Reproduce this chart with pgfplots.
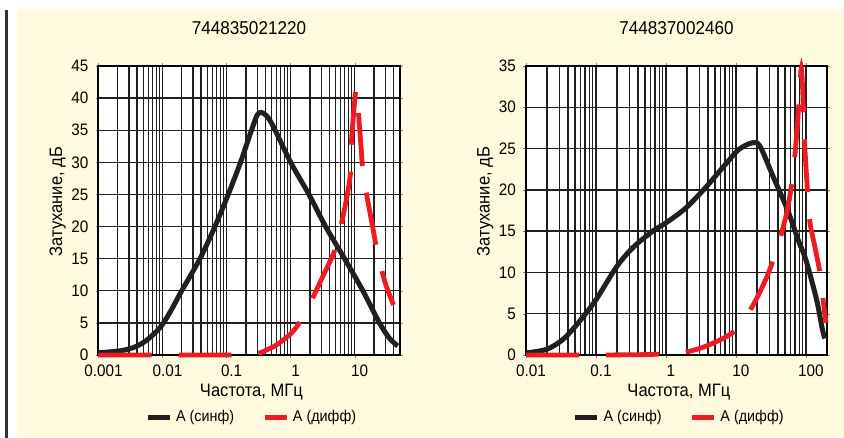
\documentclass[border=0pt]{standalone}
\usepackage{fontspec}
\setmainfont{Liberation Sans}[FakeStretch=0.92]
\usepackage{pgfplots}
\pgfplotsset{compat=1.18}

\definecolor{cream}{RGB}{255,250,222}
\definecolor{curveblack}{RGB}{35,31,32}
\definecolor{curvered}{RGB}{237,28,36}

\pgfplotsset{
  every axis/.append style={
    scale only axis, width=150.5pt, height=144.5pt,
    ymin=0, clip=false,
    axis background/.style={fill=white},
    tick align=outside, major tick length=1.5pt, minor tick length=0pt,
    xmajorgrids, xminorgrids, ymajorgrids,
    major grid style={line width=0.7pt, black!88},
    minor grid style={line width=0.65pt, black!88},
    axis line style={line width=1pt},
    /pgf/number format/assume math mode=true,
    ticklabel style={font=\fontsize{8.3}{9}\selectfont},
    xticklabel style={xshift=2.5pt},
    title style={font=\fontsize{9.3}{10}\selectfont, at={(0.5,1)}, anchor=base, yshift=9.5pt},
    xlabel style={font=\fontsize{9}{10}\selectfont, at={(axis description cs:0.508,-0.145)}, anchor=base},
    ylabel style={font=\fontsize{9}{10}\selectfont, at={(axis description cs:-0.121,0.53)}, anchor=base},
    legend columns=2,
    legend style={draw=none, fill=none, at={(axis description cs:0.512,-0.215)}, anchor=center,
      font=\fontsize{7.8}{9}\selectfont,
      /tikz/every even column/.append style={column sep=12pt}},
    legend image code/.code={\draw[#1, solid] (0pt,0pt) -- (11pt,0pt);},
  },
}

\begin{document}
\begin{tikzpicture}
\fill[white] (0,0) rectangle (422pt,219pt);
\useasboundingbox (0,0) rectangle (422pt,219pt);
\fill[cream] (8.5pt,0.5pt) rectangle (422pt,214.5pt);
\fill[black!80] (2.5pt,0pt) rectangle (4pt,214pt);

% 744835021220
\begin{axis}[xmode=log, at={(49.25pt,41.5pt)}, anchor=south west,
  title={744835021220},
  xlabel={Частота, МГц}, ylabel={Затухание, дБ},
  xmin=0.001, xmax=50, ymax=45,
  xtick={0.001,0.01,0.1,1,10},
  xticklabels={\mbox{0.001},\mbox{0.01},\mbox{0.1},\mbox{1},\mbox{10}},
  minor xtick={0.002,0.003,0.004,0.005,0.006,0.007,0.008,0.009,
    0.02,0.03,0.04,0.05,0.06,0.07,0.08,0.09,
    0.2,0.3,0.4,0.5,0.6,0.7,0.8,0.9,
    2,3,4,5,6,7,8,9,20,30,40},
  ytick={0,5,...,45}]
\addplot[color=curveblack, line width=2.5pt, smooth] coordinates {
(0.001,0.35) (0.002,0.6) (0.003,0.95) (0.004,1.4) (0.0053,2.1) (0.007,3.1) (0.0097,4.6)
(0.0135,6.9) (0.0199,10) (0.0384,15) (0.0657,20) (0.106,25) (0.165,30) (0.245,35) (0.32,37.7)
(0.47,36.6) (1.0,30) (1.93,25) (3.51,20) (6.94,15) (13.4,10) (24.3,5) (34.9,2.6) (47,1.4)
};
\addlegendentry{А (синф)}
\addplot[color=curvered, line width=2.4pt, smooth, dash pattern=on 26.5pt off 13.5pt] coordinates {
(0.001,0) (0.01,0) (0.1,0) (0.2,0.05) (0.31,0.25) (0.47,1.0) (0.63,1.7) (1.0,3.3)
(1.38,5.1) (2.23,9.0) (3.3,12.6) (4.84,16.2) (6.2,20.5) (7.5,24.5) (8.6,28.4) (8.85,33)
(10.3,40.9) (10.9,40.2) (12.6,32.2) (13.7,27.8) (19,20) (22.9,15.6) (30,11.2) (40.3,7.8)
};
\addlegendentry{А (дифф)}
\end{axis}

% 744837002460
\begin{axis}[xmode=log, at={(263pt,41.5pt)}, anchor=south west,
  title={744837002460},
  xlabel={Частота, МГц}, ylabel={Затухание, дБ},
  xmin=0.01, xmax=200, ymax=35,
  xtick={0.01,0.1,1,10,100},
  xticklabels={\mbox{0.01},\mbox{0.1},\mbox{1},\mbox{10},\mbox{100}},
  minor xtick={0.02,0.03,0.04,0.05,0.06,0.07,0.08,0.09,
    0.2,0.3,0.4,0.5,0.6,0.7,0.8,0.9,
    2,3,4,5,6,7,8,9,20,30,40,50,60,70,80,90},
  ytick={0,5,...,35}]
\addplot[color=curveblack, line width=2.5pt, smooth] coordinates {
(0.01,0.25) (0.0197,0.69) (0.0339,1.9) (0.0585,4.1) (0.1,6.7) (0.194,10.6) (0.336,13.0)
(0.648,15.0) (1.0,16.0) (1.92,17.8) (3.7,20.3) (7.1,23.1) (11,24.9) (17.1,25.7)
(22,25.3) (34,21.6) (55,17.5) (78.5,13.8) (100,11.5) (142,6.7) (171,3.2) (186,2.0)
};
\addlegendentry{А (синф)}
\addplot[color=curvered, line width=2.4pt, smooth, dash pattern=on 26.5pt off 13.5pt] coordinates {
(0.01,0) (0.1,0) (0.5,0.05) (1.0,0.15) (1.92,0.35) (3.8,1.1) (8.9,2.7) (15.6,5.3)
(24,8.3) (32.5,11) (43.3,14.3) (55,17.8) (65.6,22) (75,27.5) (82,32.5) (86,34.7)
(90,32) (95.6,25.8) (105,20) (114,16.1) (135,13) (159,9.9) (176,6.7) (193,3.9)
};
\addlegendentry{А (дифф)}
\end{axis}
\end{tikzpicture}
\end{document}
